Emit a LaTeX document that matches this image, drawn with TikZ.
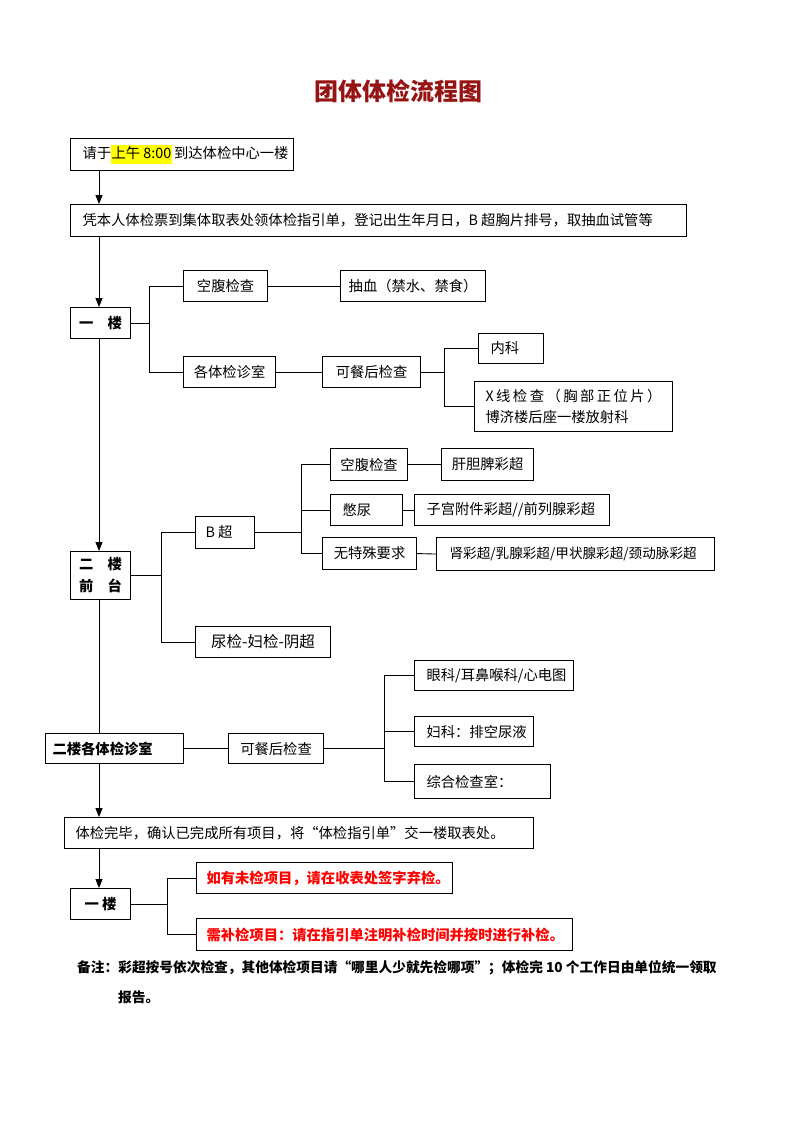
\documentclass[tikz,border=0pt]{standalone}
\usepackage{fontspec}
\setmainfont{Noto Sans CJK SC}
\usetikzlibrary{arrows.meta}
\definecolor{titlered}{RGB}{150,20,20}
\definecolor{warnred}{RGB}{255,0,0}
\definecolor{hlyellow}{RGB}{255,255,0}
\newcommand\lbx[3]{\makebox[#1pt][l]{\hspace{#2pt}#3}}
\begin{document}
\begin{tikzpicture}[x=1pt,y=-1pt,
  box/.style={draw, line width=1.1pt, anchor=north west, inner sep=0pt, font=\fontsize{14.3}{17}\selectfont},
  bbox/.style={box, font=\fontsize{14.3}{17}\selectfont\bfseries},
  rbox/.style={box, text=warnred, font=\fontsize{14.3}{17}\selectfont\bfseries},
  ln/.style={line width=0.9pt},
  arr/.style={ln, -{Triangle[length=9pt,width=7pt]}}]
\useasboundingbox (0,0) rectangle (793,1122);

\node[font=\fontsize{24}{28}\selectfont\bfseries, text=titlered] (title) at (398,91) {团体体检流程图};

\node[box, minimum width=223pt, minimum height=32pt] (n1) at (70,138)
  {\lbx{223}{12}{请于{\setlength\fboxsep{0.5pt}\colorbox{hlyellow}{\strut 上午 8:00}}\,到达体检中心一楼}};
\node[box, minimum width=616pt, minimum height=32pt] (n2) at (70,204)
  {\lbx{616}{12}{凭本人体检票到集体取表处领体检指引单，登记出生年月日，B 超胸片排号，取抽血试管等}};

\node[bbox, minimum width=60pt, minimum height=31pt] (f1) at (70,307) {一\quad 楼};
\node[box, minimum width=84pt, minimum height=31pt] (a1) at (183,270) {空腹检查};
\node[box, minimum width=145pt, minimum height=31pt] (a2) at (340,270) {抽血（禁水、禁食）};
\node[box, minimum width=92pt, minimum height=31pt] (b1) at (183,356) {各体检诊室};
\node[box, minimum width=98pt, minimum height=31pt] (b2) at (322,356) {可餐后检查};
\node[box, minimum width=65pt, minimum height=30pt] (b3) at (478,333) {\lbx{65}{12}{内科}};
\node[box, minimum width=198pt, minimum height=50pt, align=left, font=\fontsize{14.3}{21}\selectfont] (b4) at (474,381)
  {\lbx{198}{11}{\makebox[176pt][s]{X 线 检 查 （ 胸 部 正 位 片 ）}}\\\lbx{198}{11}{博济楼后座一楼放射科}};

\node[bbox, minimum width=60pt, minimum height=48pt, align=center, font=\fontsize{14.3}{22}\selectfont\bfseries] (f2) at (70,551) {二\quad 楼\\前\quad 台};
\node[box, minimum width=59pt, minimum height=32pt] (c1) at (195,516) {\lbx{59}{10}{B 超}};
\node[box, minimum width=135pt, minimum height=31pt, font=\fontsize{15.5}{18}\selectfont] (c2) at (195,626) {尿检-妇检-阴超};
\node[box, minimum width=77pt, minimum height=32pt] (d1) at (330,448) {空腹检查};
\node[box, minimum width=92pt, minimum height=32pt] (d2) at (441,448) {肝胆脾彩超};
\node[box, minimum width=72pt, minimum height=31pt] (e1) at (330,494) {\lbx{72}{12}{憋尿}};
\node[box, minimum width=195pt, minimum height=31pt] (e2) at (414,494) {\lbx{195}{12}{子宫附件彩超//前列腺彩超}};
\node[box, minimum width=94pt, minimum height=32pt] (g1) at (322,537) {无特殊要求};
\node[box, minimum width=278pt, minimum height=33pt, font=\fontsize{13.6}{17}\selectfont] (g2) at (436,537) {\lbx{278}{13}{肾彩超/乳腺彩超/甲状腺彩超/颈动脉彩超}};

\node[bbox, minimum width=138pt, minimum height=30pt] (f3) at (45,733) {\lbx{138}{7}{二楼各体检诊室}};
\node[box, minimum width=95pt, minimum height=30pt] (h1) at (228,733) {可餐后检查};
\node[box, minimum width=159pt, minimum height=30pt] (i1) at (414,660) {\lbx{159}{12}{眼科/耳鼻喉科/心电图}};
\node[box, minimum width=119pt, minimum height=30pt] (i2) at (414,716) {\lbx{119}{12}{妇科：排空尿液}};
\node[box, minimum width=136pt, minimum height=34pt] (i3) at (414,764) {\lbx{136}{12}{综合检查室：}};

\node[box, minimum width=469pt, minimum height=31pt] (n3) at (64,817)
  {\lbx{469}{11}{体检完毕，确认已完成所有项目，将“体检指引单”交一楼取表处。}};
\node[bbox, minimum width=60pt, minimum height=31pt] (f4) at (70,888) {一\ 楼};
\node[rbox, minimum width=256pt, minimum height=31pt] (r1) at (196,862) {\lbx{256}{10}{如有未检项目，请在收表处签字弃检。}};
\node[rbox, minimum width=376pt, minimum height=32pt] (r2) at (196,918) {\lbx{376}{10}{需补检项目：请在指引单注明补检时间并按时进行补检。}};

\node[anchor=west, inner sep=0pt, font=\fontsize{13.7}{17}\selectfont\bfseries] (note1) at (77,968)
  {备注：彩超按号依次检查，其他体检项目请“哪里人少就先检哪项”；体检完 10 个工作日由单位统一领取};
\node[anchor=west, inner sep=0pt, font=\fontsize{13.7}{17}\selectfont\bfseries] (note2) at (118,997) {报告。};

% connectors
\draw[arr] ([xshift=29pt]n1.south west) -- ([xshift=29pt]n2.north west);
\draw[arr] ([xshift=29pt]n2.south west) -- ([xshift=29pt]f1.north west);
\draw[ln] (f1.east) -- ++(18,0) coordinate (j1) |- (a1.west);
\draw[ln] (j1) |- (b1.west);
\draw[ln] (a1.east) -- (a2.west);
\draw[ln] (b1.east) -- (b2.west);
\draw[ln] (b2.east) -- ++(23,0) coordinate (j2) |- (b3.west);
\draw[ln] (j2) |- (b4.west);

\draw[arr] ([xshift=29pt]f1.south west) -- ([xshift=29pt]f2.north west);
\draw[ln] (f2.east) -- ++(30,0) coordinate (j3) |- (c1.west);
\draw[ln] (j3) |- (c2.west);
\draw[ln] (c1.east) -- ++(46,0) coordinate (j4) |- (d1.west);
\draw[ln] (j4) |- (e1.west);
\draw[ln] (j4) |- (g1.west);
\draw[ln] (d1.east) -- (d2.west);
\draw[ln] (e1.east) -- (e2.west);
\draw[ln] (g1.east) -- (g2.west);

\draw[ln] ([xshift=29pt]f2.south west) -- ([xshift=54pt]f3.north west);
\draw[ln] (f3.east) -- (h1.west);
\draw[ln] (h1.east) -- ++(60,0) coordinate (j5) |- (i1.west);
\draw[ln] (j5) |- (i2.west);
\draw[ln] (j5) |- (i3.west);

\draw[arr] ([xshift=54pt]f3.south west) -- ([xshift=35pt]n3.north west);
\draw[arr] ([xshift=35pt]n3.south west) -- ([xshift=29pt]f4.north west);
\draw[ln] (f4.east) -- ++(36,0) coordinate (j6) |- (r1.west);
\draw[ln] (j6) |- (r2.west);
\end{tikzpicture}
\end{document}
